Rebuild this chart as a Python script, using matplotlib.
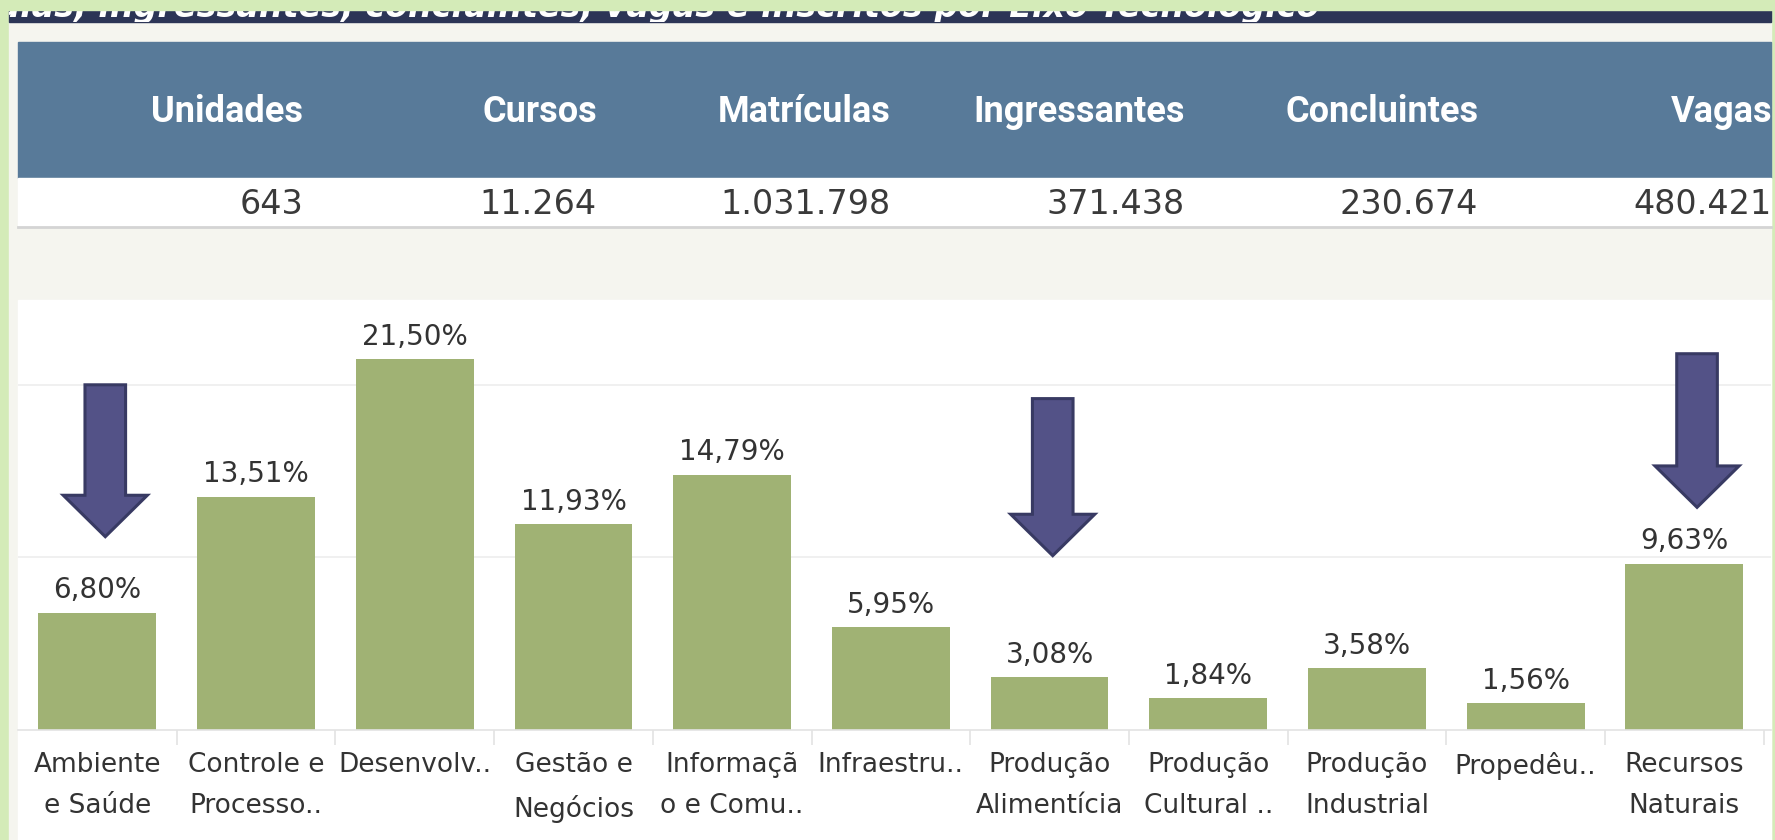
import numpy as np
import matplotlib
matplotlib.use('Agg')
import matplotlib.pyplot as plt
from matplotlib.patches import Rectangle, Polygon
from matplotlib.transforms import Bbox, TransformedBbox

W, H = 1775, 840

# ---- data
header_cols = ['Unidades', 'Cursos', 'Matrículas', 'Ingressantes', 'Concluintes', 'Vagas']
header_vals = ['643', '11.264', '1.031.798', '371.438', '230.674', '480.421']

eixos = ['Ambiente\ne Saúde', 'Controle e\nProcesso..', 'Desenvolv..', 'Gestão e\nNegócios',
         'Informaçã\no e Comu..', 'Infraestru..', 'Produção\nAlimentícia', 'Produção\nCultural ..',
         'Produção\nIndustrial', 'Propedêu..', 'Recursos\nNaturais']
share = [6.80, 13.51, 21.50, 11.93, 14.79, 5.95, 3.08, 1.84, 3.58, 1.56, 9.63]

# arrows drawn over the chart (category index, tip %, top of shaft %)
arrow_at = [0.05, 6.02, 10.08]
arrow_tip = [11.2, 10.1, 12.9]
arrow_top = [20.0, 19.2, 21.8]

title = 'Matrículas, ingressantes, concluintes, vagas e inscritos por Eixo Tecnológico'

green_border = '#d4ebb8'
beige = '#f5f5ef'
navy = '#2c3556'
head_blue = '#587a99'
bar_green = '#a0b274'
txt_grey = '#333333'

fig = plt.figure(figsize=(W/100, H/100), dpi=100)
fig.patch.set_facecolor(green_border)

# background / layout layer in pixel coords
bg = fig.add_axes([0, 0, 1, 1])
bg.set_xlim(0, W)
bg.set_ylim(H, 0)
bg.axis('off')
bg.set_zorder(0)

bg.add_patch(Rectangle((9, 10), 1771-9, H-10, color=beige, zorder=1))
bg.add_patch(Rectangle((9, 10), 1771-9, 12, color=navy, zorder=1))

# title strip: only the lower part of the title shows
tt = bg.text(1319, 17.5, title, color='white', fontsize=24, style='italic', weight='semibold',
             ha='right', va='baseline', zorder=2)
tt.set_clip_box(TransformedBbox(Bbox([[9, 10], [1771, 22]]), bg.transData))
tt.set_clip_on(True)
# green frame over the top edge
bg.add_patch(Rectangle((0, 0), W, 10, color=green_border, zorder=10))

bg.add_patch(Rectangle((18, 42), 1771-18, 136, color=head_blue, zorder=1))
bg.add_patch(Rectangle((18, 178), 1771-18, 48, color='white', zorder=1))
bg.plot([18, 1771], [227, 227], color='#d4d4d4', lw=2, zorder=1)
bg.add_patch(Rectangle((18, 300), 1771-18, H-300, color='white', zorder=1))

col_pitch = 293.8
for i, (c, v) in enumerate(zip(header_cols, header_vals)):
    xr = 303 + i*col_pitch
    bg.text(xr, 112, c, color='white', fontsize=26, weight='bold', ha='right', va='center',
            family=['Roboto', 'DejaVu Sans'])
    bg.text(xr, 204, v, color='#3a3a3a', fontsize=24, ha='right', va='center')

# ---- bar chart
ax = fig.add_axes([18/W, (H-730)/H, (1771-18)/W, 430/H])
ax.set_zorder(1)
ax.patch.set_alpha(0)
x = np.arange(len(share))
ax.bar(x, share, width=0.742, color=bar_green, zorder=2)
ax.set_xlim(-0.5, -0.5 + (1771-18)/158.7)
ax.set_ylim(0, 430/17.26)

ax.set_yticks([10, 20])
ax.set_yticklabels([])
ax.yaxis.grid(True, color='#ededed', lw=1.2)
ax.tick_params(axis='y', length=0)
for s in ['top', 'right', 'left']:
    ax.spines[s].set_visible(False)
ax.spines['bottom'].set_color('#e3e3e3')
ax.spines['bottom'].set_linewidth(1.2)

ax.set_xticks(x)
ax.set_xticklabels(eixos, fontsize=19, color=txt_grey, linespacing=1.75)
ax.tick_params(axis='x', length=0, pad=16)
ax.set_xticks(np.append(x[:-1] + 0.5, x[-1] + 0.5), minor=True)
ax.tick_params(axis='x', which='minor', length=11, color='#e3e3e3', width=1.2)

for i, v in enumerate(share):
    ax.annotate(f'{v:.2f}%'.replace('.', ','), (i, v), xytext=(0, 6), textcoords='offset points',
                ha='center', va='bottom', fontsize=20, color=txt_grey)

# block arrows
hw, sw, hl = 0.265, 0.128, 2.4
for xa, tip, top_y in zip(arrow_at, arrow_tip, arrow_top):
    pts = [(xa - sw, top_y), (xa + sw, top_y), (xa + sw, tip + hl), (xa + hw, tip + hl),
           (xa, tip), (xa - hw, tip + hl), (xa - sw, tip + hl)]
    ax.add_patch(Polygon(pts, closed=True, facecolor='#535287', edgecolor='#383a63', lw=2.2, zorder=5))

fig.savefig('out.png', dpi=100, facecolor=fig.get_facecolor())
